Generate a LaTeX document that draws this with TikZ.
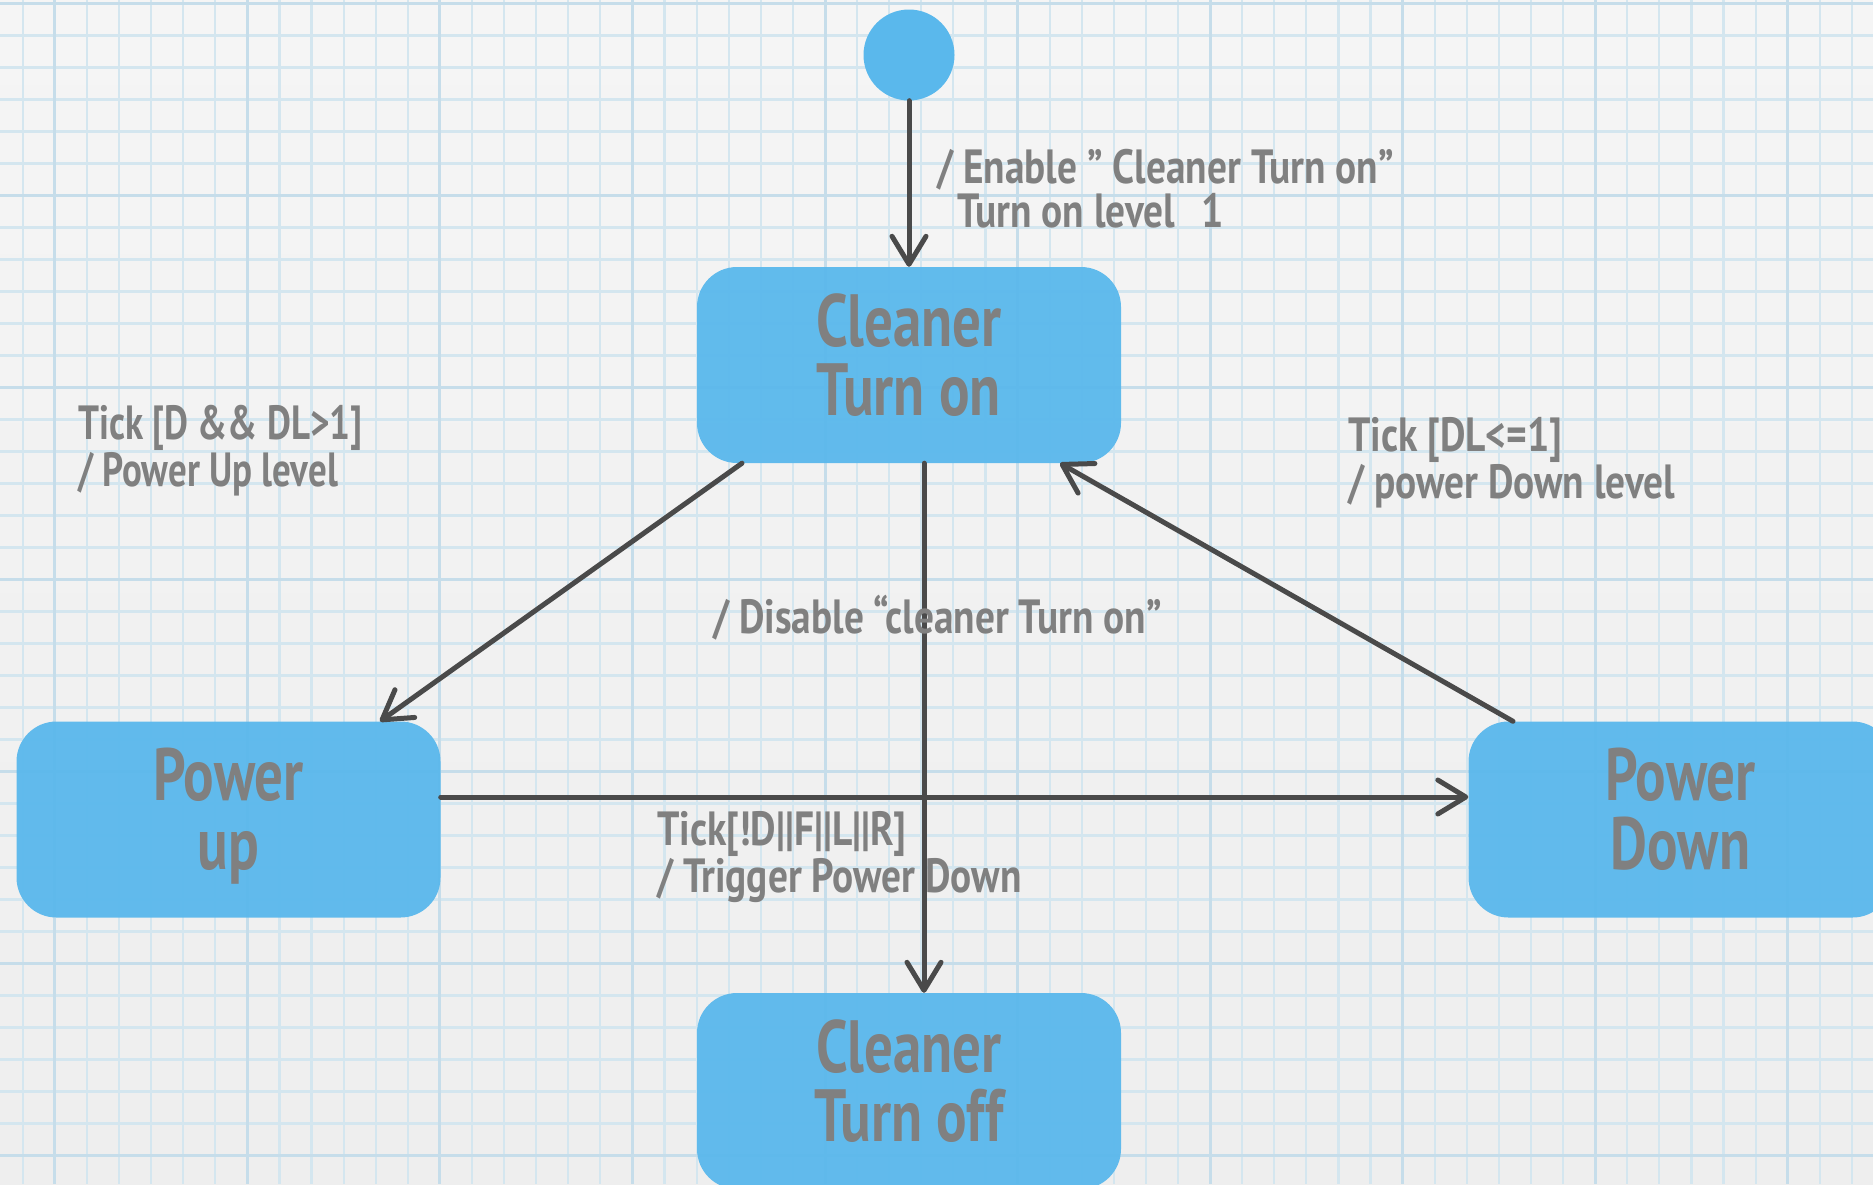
\documentclass[tikz,border=0pt]{standalone}
\usepackage{fontspec}
\usetikzlibrary{arrows.meta}
\newfontfamily\handfont[FakeStretch=0.77]{PT Sans}
\newfontfamily\notefont[FakeStretch=0.82]{PT Sans}
\definecolor{papertop}{HTML}{F5F5F5}
\definecolor{paperbot}{HTML}{EEEEEE}
\definecolor{gridminor}{HTML}{D4E6EF}
\definecolor{gridmajor}{HTML}{C6DDEA}
\definecolor{statefill}{HTML}{5AB8EC}
\definecolor{inkgray}{HTML}{808080}
\definecolor{wire}{HTML}{4A4A4A}
\begin{document}
\begin{tikzpicture}[x=1pt,y=-1pt,
  statebox/.style={rectangle, rounded corners=40pt, fill=statefill, fill opacity=0.95,
    text opacity=1, minimum width=424pt, minimum height=196pt, inner sep=0pt,
    text height=120pt, text depth=20pt,
    text=inkgray, align=center, font=\handfont\bfseries\fontsize{74}{69}\selectfont},
  startdot/.style={circle, fill=statefill, minimum size=91pt, inner sep=0pt},
  lab/.style={text=inkgray, align=left, inner sep=0pt, anchor=base west,
    font=\notefont\bfseries\fontsize{48}{44}\selectfont},
  flow/.style={draw=wire, line width=5pt, line cap=round,
    -{Straight Barb[length=28pt,width=34pt,line width=5pt,round]}},
  minorline/.style={draw=gridminor, line width=2.2pt},
  majorline/.style={draw=gridmajor, line width=3pt}]

% paper
\shade[top color=papertop, bottom color=paperbot] (0,0) rectangle (1873,1184);
\useasboundingbox (0,0) rectangle (1873,1184);

% squared grid
\foreach \i in {0,...,58} {
  \pgfmathsetmacro\gx{22.75+32.09*\i}
  \draw[minorline] (\gx,0) -- (\gx,1184);
}
\foreach \j in {0,...,37} {
  \pgfmathsetmacro\gy{3.4+32.0*\j}
  \draw[minorline] (0,\gy) -- (1873,\gy);
}
\foreach \i in {1,7,...,55} {
  \pgfmathsetmacro\gx{22.75+32.09*\i}
  \draw[majorline] (\gx,0) -- (\gx,1184);
}
\foreach \j in {0,6,...,36} {
  \pgfmathsetmacro\gy{3.4+32.0*\j}
  \draw[majorline] (0,\gy) -- (1873,\gy);
}

% states
\node[startdot] (init) at (909,55) {};
\node[statebox] (on)   at (909,365)    {Cleaner\\Turn on};
\node[statebox] (up)   at (228.5,819.5)  {Power\\up};
\node[statebox] (down) at (1680.5,819.5) {Power\\Down};
\node[statebox] (off)  at (909,1091)   {Cleaner\\Turn off};

% transitions
\draw[flow] (init) -- (on);
\draw[flow] ([xshift=-167pt]on.south) -- ([xshift=151.5pt]up.north);
\draw[flow] ([xshift=15pt]on.south) -- ([xshift=15pt]off.north);
\draw[flow] ([yshift=22.5pt]up.east) -- ([yshift=22.5pt]down.west);
\draw[flow] ([xshift=-167.5pt]down.north) -- ([xshift=151pt]on.south);

% transition labels (anchored at the baseline of their last line)
\node[lab] (lenable)  at (937,227) {/ Enable ” Cleaner Turn on”\\\hspace*{20pt}Turn on level\hspace{26pt}1};
\node[lab, font=\handfont\bfseries\fontsize{48}{41}\selectfont]
           (lpowup)   at (78,486)   {Tick [D \&\& DL>1]\\/ Power Up level};
\node[lab] (lpowdown) at (1348,498) {Tick [DL<=1]\\/ power Down level};
\node[lab] (ldisable) at (713,633)  {/ Disable “cleaner Turn on”};
\node[lab] (ltrigger) at (657,892)  {Tick[!D||F||L||R]\\/ Trigger Power Down};
\end{tikzpicture}
\end{document}
